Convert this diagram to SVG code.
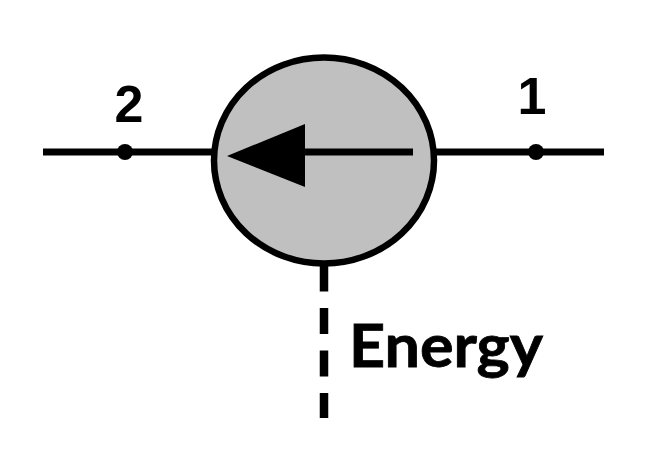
<svg xmlns="http://www.w3.org/2000/svg" width="652" height="456" viewBox="0 0 652 456">
<style>
.l{stroke:#000;stroke-width:7;fill:none}
.t{font-weight:700;fill:#000}
.d{font-family:"Liberation Sans",Arial,sans-serif;font-size:52px;text-anchor:middle}
.e{font-family:Lato,"Open Sans","Liberation Sans",sans-serif;font-size:60px;stroke:#000;stroke-width:.8}
</style>
<rect width="652" height="456" fill="#fff"/>
<g id="connectors">
<path class="l" d="M43 152H213"/>
<path class="l" d="M436 152H604"/>
<path class="l" d="M324 265.500V418" stroke-dasharray="26 16.500" style="stroke-width:8.500"/>
</g>
<g id="pump">
<ellipse cx="324" cy="160.500" rx="110" ry="103" fill="#c0c0c0" stroke="#000" stroke-width="6.500"/>
<path class="l" d="M413 152H290"/>
<path d="M227 156L305 124V187Z" fill="#000"/>
</g>
<g id="node-2"><circle cx="125" cy="152" r="8" fill="#000"/><text class="t d" x="129" y="122">2</text></g>
<g id="node-1"><circle cx="536" cy="152" r="8" fill="#000"/><text class="t d" x="532" y="114">1</text></g>
<g id="energy"><text class="t e" x="349" y="367" textLength="194" lengthAdjust="spacingAndGlyphs">Energy</text></g>
</svg>
